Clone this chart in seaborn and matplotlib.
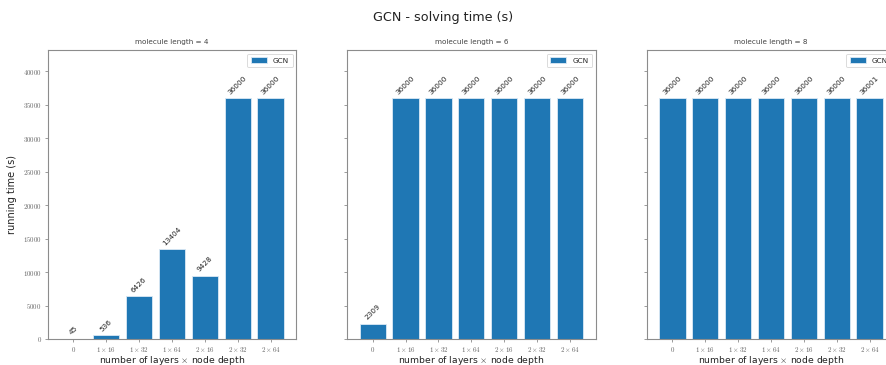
import matplotlib
matplotlib.use("Agg")
import matplotlib.pyplot as plt
import seaborn as sns
import pandas as pd

# Model configurations (number of layers x node depth)
configs = ["0", "1x16", "1x32", "1x64", "2x16", "2x32", "2x64"]
tick_labels = [r"$0$", r"$1\times16$", r"$1\times32$", r"$1\times64$",
               r"$2\times16$", r"$2\times32$", r"$2\times64$"]

# Solving time (s) per molecule length
molecule_lengths = [4, 6, 8]
time_len4 = [45, 536, 6426, 13404, 9428, 36000, 36000]
time_len6 = [2309, 36000, 36000, 36000, 36000, 36000, 36000]
time_len8 = [36000, 36000, 36000, 36000, 36000, 36000, 36001]
series = [time_len4, time_len6, time_len8]

sns.set_theme(style="white")
plt.rcParams["mathtext.fontset"] = "cm"
plt.rcParams["font.family"] = ["DejaVu Sans"]

fig = plt.figure(figsize=(8.86, 3.65), dpi=100)
W, H = 886.0, 365.0
bottom = 1 - 339 / H
height = (339 - 50) / H
lefts = [47.5, 346.8, 646.5]
width = 249.0 / W

spine_col = "#8c8c8c"
text_col = "#222222"
bar_col = "#1f77b4"
ymax = 43200

axes = []
for i, (L, vals) in enumerate(zip(molecule_lengths, series)):
    ax = fig.add_axes([lefts[i] / W, bottom, width, height],
                      sharey=axes[0] if axes else None)
    axes.append(ax)
    df = pd.DataFrame({"config": configs, "time": vals})
    sns.barplot(data=df, x="config", y="time", ax=ax, color=bar_col,
                saturation=1, width=0.8, edgecolor="#dbe9f5", linewidth=0.6,
                label="GCN")
    ax.set_xlim(-0.79, 6.79)
    ax.set_ylim(0, ymax)
    ax.set_xticks(range(len(configs)))
    ax.set_xticklabels(tick_labels, fontsize=5, color="#666666")
    ax.set_yticks(range(0, 40001, 5000))
    if i == 0:
        ax.set_yticklabels([rf"${v}$" for v in range(0, 40001, 5000)],
                           fontsize=5, color="#666666")
        ax.set_ylabel("running time (s)", fontsize=7, color=text_col,
                      labelpad=4)
    else:
        ax.tick_params(axis="y", labelleft=False)
        ax.set_ylabel("")
    ax.set_xlabel(r"number of layers $\times$ node depth", fontsize=6.7,
                  color=text_col, labelpad=0)
    ax.set_title(f"molecule length = {L}", fontsize=5.2, color="#444444",
                 pad=4)
    ax.tick_params(axis="both", which="both", length=2.5, width=0.6,
                   color=spine_col, pad=1.5, bottom=True, left=True)
    for s in ax.spines.values():
        s.set_color(spine_col)
        s.set_linewidth(0.8)
    for cont in ax.containers:
        ax.bar_label(cont, labels=[str(v) for v in vals], rotation=45,
                     fontsize=5.3, color="#222222", padding=2)
    leg = ax.legend(loc="upper right", fontsize=5.3, frameon=True,
                    handlelength=2.2, borderpad=0.5)
    leg.get_frame().set_linewidth(0.6)

fig.suptitle("GCN - solving time (s)", fontsize=9.2, y=0.97,
             color=text_col)
fig.savefig("out.png", dpi=100)
